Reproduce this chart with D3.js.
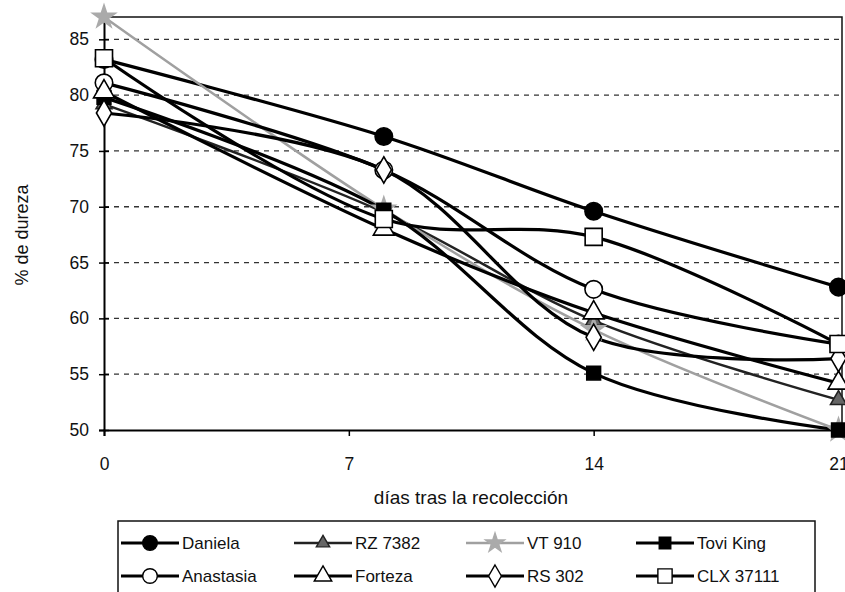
<!DOCTYPE html>
<html>
<head>
<meta charset="utf-8">
<script src="https://cdn.jsdelivr.net/npm/d3@7"></script>
<style>
  body { margin: 0; background: #fff; }
  svg { display: block; font-family: "Liberation Sans", Arial, sans-serif; }
</style>
</head>
<body>
<div class="graph"></div>
<script>
// days after harvest
const days = [0, 8, 14, 21];
const xTicks = [0, 7, 14, 21];
const yTicks = [50, 55, 60, 65, 70, 75, 80, 85];

// % hardness per variety
const daniela = [83.2, 76.3, 69.6, 62.8];
const rz7382 = [79.2, 69.5, 59.8, 52.7];
const vt910 = [87, 69.8, 59, 50];
const toviKing = [79.8, 69.7, 55.1, 50];
const anastasia = [81.1, 73.3, 62.6, 57.7];
const forteza = [80.3, 68, 60.5, 54.2];
const rs302 = [78.4, 73.3, 58.3, 56.4];
const clx37111 = [83.3, 68.9, 67.3, 57.7];

const seriesNames = ["Daniela", "RZ 7382", "VT 910", "Tovi King", "Anastasia", "Forteza", "RS 302", "CLX 37111"];
const seriesValues = [daniela, rz7382, vt910, toviKing, anastasia, forteza, rs302, clx37111];

// look of each series: symbol, fill, stroke, line colour, line width, symbol size
const styles = {
  "Daniela":   { sym: d3.symbolCircle, fill: "#000", stroke: "#000", line: "#000", lw: 3.2, size: 240 },
  "RZ 7382":   { sym: d3.symbolTriangle, fill: "#666", stroke: "#222", line: "#222", lw: 2.5, size: 110 },
  "VT 910":    { sym: d3.symbolStar, fill: "#aaa", stroke: "#aaa", line: "#a0a0a0", lw: 2.5, size: 160 },
  "Tovi King": { sym: d3.symbolSquare, fill: "#000", stroke: "#000", line: "#000", lw: 3.2, size: 190 },
  "Anastasia": { sym: d3.symbolCircle, fill: "#fff", stroke: "#000", line: "#000", lw: 3.2, size: 240 },
  "Forteza":   { sym: d3.symbolTriangle, fill: "#fff", stroke: "#000", line: "#000", lw: 3.2, size: 190 },
  "RS 302":    { sym: d3.symbolDiamond, fill: "#fff", stroke: "#000", line: "#000", lw: 3.2, size: 200 },
  "CLX 37111": { sym: d3.symbolSquare, fill: "#fff", stroke: "#000", line: "#000", lw: 3.2, size: 290 }
};

const W = 845, H = 592;
const svg = d3.select(".graph").append("svg").attr("width", W).attr("height", H);

const x = d3.scaleLinear().domain([0, 21.1]).range([104, 842]);
const y = d3.scaleLinear().domain([50, 87]).range([430, 17]);

// dashed gridlines
svg.append("g")
  .selectAll("line")
  .data(yTicks.filter(d => d > 50))
  .join("line")
  .attr("x1", x(0)).attr("x2", x(21.1))
  .attr("y1", d => y(d)).attr("y2", d => y(d))
  .attr("stroke", "#333")
  .attr("stroke-width", 1.3)
  .attr("stroke-dasharray", "5,5");

// plot frame top and right
svg.append("path")
  .attr("d", `M${x(0)},${y(87)}H${x(21.1)}V${y(50)}`)
  .attr("fill", "none").attr("stroke", "#111").attr("stroke-width", 1.5);

// y axis
const yAxis = svg.append("g")
  .attr("transform", `translate(${x(0)},0)`)
  .call(d3.axisLeft(y).tickValues(yTicks).tickSize(5).tickPadding(10));
yAxis.select(".domain").attr("stroke", "#000").attr("stroke-width", 2);
yAxis.selectAll(".tick line").attr("x2", 5).attr("x1", -5).attr("stroke-width", 1.5);
yAxis.selectAll("text").attr("font-size", 17.5).attr("fill", "#111").attr("font-family", "Liberation Sans, Arial");

// x axis
const xAxis = svg.append("g")
  .attr("transform", `translate(0,${y(50)})`)
  .call(d3.axisBottom(x).tickValues(xTicks).tickSize(6).tickPadding(22));
xAxis.select(".domain").attr("stroke", "#000").attr("stroke-width", 2);
xAxis.selectAll(".tick line").attr("stroke-width", 1.5);
xAxis.selectAll("text").attr("font-size", 17.5).attr("fill", "#111").attr("font-family", "Liberation Sans, Arial");

// axis titles
svg.append("text")
  .attr("x", 471).attr("y", 504)
  .attr("text-anchor", "middle")
  .attr("font-size", 19).attr("fill", "#111")
  .text("días tras la recolección");

svg.append("text")
  .attr("transform", "translate(28,235) rotate(-90)")
  .attr("text-anchor", "middle")
  .attr("font-size", 18).attr("fill", "#111")
  .text("% de dureza");

// smoothed lines like Excel
const line = d3.line()
  .x((d, i) => x(days[i]))
  .y(d => y(d))
  .curve(d3.curveCatmullRom.alpha(0.5));

seriesNames.forEach((name, k) => {
  const s = styles[name];
  svg.append("path")
    .datum(seriesValues[k])
    .attr("d", line)
    .attr("fill", "none")
    .attr("stroke", s.line)
    .attr("stroke-width", s.lw);
});

seriesNames.forEach((name, k) => {
  const s = styles[name];
  svg.append("g")
    .selectAll("path")
    .data(seriesValues[k])
    .join("path")
    .attr("transform", (d, i) => `translate(${x(days[i])},${y(d)})`)
    .attr("d", d3.symbol().type(s.sym).size(s.size))
    .attr("fill", s.fill)
    .attr("stroke", s.stroke)
    .attr("stroke-width", 1.6);
});

// legend
const legend = svg.append("g");
legend.append("rect")
  .attr("x", 118).attr("y", 521)
  .attr("width", 697).attr("height", 80)
  .attr("fill", "#fff").attr("stroke", "#111").attr("stroke-width", 1.5);

const colX = [121, 294, 466, 636];
const rowY = [543, 576];
seriesNames.forEach((name, k) => {
  const s = styles[name];
  const cx = colX[k % 4], cy = rowY[Math.floor(k / 4)];
  const g = legend.append("g").attr("transform", `translate(${cx},${cy})`);
  g.append("line")
    .attr("x1", 0).attr("x2", 58)
    .attr("stroke", s.line).attr("stroke-width", s.lw);
  g.append("path")
    .attr("transform", "translate(29,0)")
    .attr("d", d3.symbol().type(s.sym).size(s.size * 0.7))
    .attr("fill", s.fill).attr("stroke", s.stroke).attr("stroke-width", 1.4);
  g.append("text")
    .attr("x", 61).attr("y", 6)
    .attr("font-size", 17).attr("fill", "#111")
    .text(name);
});
</script>
</body>
</html>
